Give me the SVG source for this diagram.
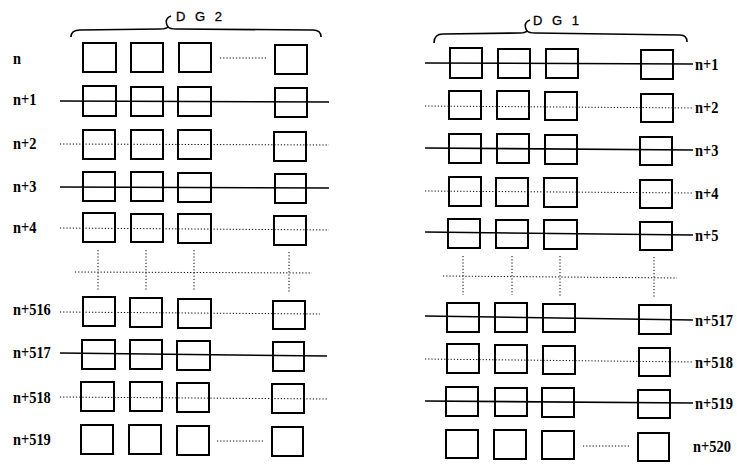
<svg xmlns="http://www.w3.org/2000/svg" width="737" height="465" viewBox="0 0 737 465">
<style>
.b{fill:none;stroke:#000;stroke-width:2}
.s{stroke:#000;stroke-width:1.6;fill:none}
.d{stroke:#000;stroke-width:1;stroke-dasharray:1.2 2;fill:none}
.br{stroke:#000;stroke-width:1.6;fill:none}
.l{font-family:"Liberation Serif",serif;font-weight:bold;font-size:16px;fill:#000}
.r{font-family:"Liberation Serif",serif;font-weight:bold;font-size:17px;fill:#000}
.t{font-family:"Liberation Sans",sans-serif;font-size:13px;fill:#000;letter-spacing:3px;stroke:#000;stroke-width:0.3}
</style>
<rect width="737" height="465" fill="#fff"/>
<g id="connectors">
<line class="d" x1="220" y1="58" x2="268" y2="58"/>
<line class="s" x1="60" y1="101" x2="329" y2="102"/>
<line class="d" x1="60" y1="144" x2="329" y2="145"/>
<line class="s" x1="60" y1="187" x2="329" y2="188"/>
<line class="d" x1="60" y1="228" x2="329" y2="230"/>
<line class="d" x1="60" y1="312" x2="320" y2="314"/>
<line class="s" x1="60" y1="353" x2="327" y2="356"/>
<line class="d" x1="60" y1="397" x2="327" y2="399"/>
<line class="d" x1="217" y1="441" x2="265" y2="441"/>
<line class="d" x1="98" y1="250" x2="98" y2="290"/>
<line class="d" x1="146" y1="250" x2="146" y2="290"/>
<line class="d" x1="194" y1="250" x2="194" y2="290"/>
<line class="d" x1="289" y1="252" x2="289" y2="292"/>
<line class="d" x1="75" y1="272" x2="312" y2="273"/>
<line class="s" x1="425" y1="63" x2="693" y2="64"/>
<line class="d" x1="425" y1="106" x2="693" y2="108"/>
<line class="s" x1="425" y1="148" x2="693" y2="150"/>
<line class="d" x1="425" y1="191" x2="693" y2="193"/>
<line class="s" x1="425" y1="232" x2="693" y2="235"/>
<line class="s" x1="425" y1="316" x2="693" y2="320"/>
<line class="d" x1="425" y1="359" x2="693" y2="362"/>
<line class="s" x1="425" y1="401" x2="693" y2="403"/>
<line class="d" x1="583" y1="446" x2="630" y2="446"/>
<line class="d" x1="463" y1="256" x2="463" y2="295"/>
<line class="d" x1="512" y1="256" x2="512" y2="295"/>
<line class="d" x1="560" y1="256" x2="560" y2="296"/>
<line class="d" x1="654" y1="257" x2="654" y2="297"/>
<line class="d" x1="443" y1="276" x2="677" y2="278"/>
</g>
<g id="brace-dg2">
<path class="br" d="M71,37 Q71,30 80,30 L160,29 Q166,29 168,27 Q170,29 176,29 L313,30 Q321,30 321,37"/>
<path class="br" d="M168,27 Q165,22 167,19 Q168,17 171,16"/>
<text class="t" x="176" y="21">D G 2</text>
</g>
<g id="brace-dg1">
<path class="br" d="M434,43 Q434,34 443,34 L520,33 Q525,33 527,31 Q529,33 535,33 L680,35 Q687,35 687,42"/>
<path class="br" d="M527,31 Q524,26 526,23 Q527,21 530,20"/>
<text class="t" x="533" y="25">D G 1</text>
</g>
<g id="labels-dg2" transform="translate(13,0) scale(0.9,1)">
<text class="l" x="0" y="64">n</text>
<text class="l" x="0" y="105">n+1</text>
<text class="l" x="0" y="149">n+2</text>
<text class="l" x="0" y="192">n+3</text>
<text class="l" x="0" y="233">n+4</text>
<text class="l" x="0" y="315">n+516</text>
<text class="l" x="0" y="358">n+517</text>
<text class="l" x="0" y="403">n+518</text>
<text class="l" x="0" y="445">n+519</text>
</g>
<g id="labels-dg1" transform="translate(695,0) scale(0.85,1)">
<text class="r" x="0" y="70">n+1</text>
<text class="r" x="0" y="113">n+2</text>
<text class="r" x="0" y="156">n+3</text>
<text class="r" x="0" y="199">n+4</text>
<text class="r" x="0" y="241">n+5</text>
<text class="r" x="0" y="326">n+517</text>
<text class="r" x="0" y="368">n+518</text>
<text class="r" x="0" y="409">n+519</text>
<text class="r" x="-2.4" y="452">n+520</text>
</g>
<g id="dg2-row-n"><rect class="b" x="83" y="43" width="33" height="29"/><rect class="b" x="131" y="43" width="32" height="29"/><rect class="b" x="179" y="43" width="32" height="29"/><rect class="b" x="275" y="45" width="32" height="29"/></g>
<g id="dg2-row-n1"><rect class="b" x="83" y="86" width="33" height="30"/><rect class="b" x="131" y="87" width="32" height="29"/><rect class="b" x="178" y="87" width="33" height="29"/><rect class="b" x="275" y="88" width="32" height="29"/></g>
<g id="dg2-row-n2"><rect class="b" x="83" y="130" width="32" height="29"/><rect class="b" x="131" y="130" width="32" height="29"/><rect class="b" x="178" y="130" width="33" height="29"/><rect class="b" x="274" y="132" width="32" height="29"/></g>
<g id="dg2-row-n3"><rect class="b" x="83" y="172" width="32" height="29"/><rect class="b" x="131" y="172" width="32" height="29"/><rect class="b" x="178" y="173" width="33" height="29"/><rect class="b" x="275" y="174" width="31" height="29"/></g>
<g id="dg2-row-n4"><rect class="b" x="83" y="213" width="32" height="29"/><rect class="b" x="131" y="214" width="32" height="28"/><rect class="b" x="178" y="214" width="33" height="29"/><rect class="b" x="274" y="216" width="32" height="29"/></g>
<g id="dg2-row-n516"><rect class="b" x="83" y="297" width="32" height="29"/><rect class="b" x="130" y="298" width="32" height="29"/><rect class="b" x="178" y="299" width="33" height="29"/><rect class="b" x="273" y="301" width="32" height="28"/></g>
<g id="dg2-row-n517"><rect class="b" x="82" y="340" width="33" height="29"/><rect class="b" x="130" y="340" width="32" height="29"/><rect class="b" x="177" y="341" width="33" height="29"/><rect class="b" x="273" y="342" width="31" height="29"/></g>
<g id="dg2-row-n518"><rect class="b" x="81" y="382" width="33" height="29"/><rect class="b" x="130" y="382" width="32" height="29"/><rect class="b" x="177" y="383" width="32" height="29"/><rect class="b" x="272" y="384" width="32" height="29"/></g>
<g id="dg2-row-n519"><rect class="b" x="81" y="425" width="32" height="29"/><rect class="b" x="129" y="425" width="32" height="29"/><rect class="b" x="177" y="426" width="32" height="29"/><rect class="b" x="272" y="427" width="31" height="29"/></g>
<g id="dg1-row-n1"><rect class="b" x="450" y="48" width="32" height="30"/><rect class="b" x="498" y="49" width="32" height="29"/><rect class="b" x="546" y="49" width="32" height="29"/><rect class="b" x="641" y="50" width="32" height="29"/></g>
<g id="dg1-row-n2"><rect class="b" x="449" y="91" width="32" height="28"/><rect class="b" x="497" y="91" width="32" height="28"/><rect class="b" x="545" y="92" width="32" height="28"/><rect class="b" x="641" y="94" width="32" height="28"/></g>
<g id="dg1-row-n3"><rect class="b" x="449" y="134" width="32" height="29"/><rect class="b" x="497" y="134" width="32" height="29"/><rect class="b" x="545" y="135" width="32" height="29"/><rect class="b" x="640" y="137" width="32" height="28"/></g>
<g id="dg1-row-n4"><rect class="b" x="449" y="177" width="32" height="29"/><rect class="b" x="496" y="178" width="32" height="28"/><rect class="b" x="544" y="178" width="33" height="29"/><rect class="b" x="640" y="180" width="32" height="28"/></g>
<g id="dg1-row-n5"><rect class="b" x="448" y="219" width="32" height="29"/><rect class="b" x="496" y="220" width="32" height="28"/><rect class="b" x="544" y="220" width="33" height="29"/><rect class="b" x="640" y="222" width="32" height="28"/></g>
<g id="dg1-row-n517"><rect class="b" x="447" y="303" width="32" height="29"/><rect class="b" x="495" y="303" width="32" height="29"/><rect class="b" x="543" y="304" width="32" height="28"/><rect class="b" x="639" y="305" width="32" height="29"/></g>
<g id="dg1-row-n518"><rect class="b" x="447" y="344" width="32" height="29"/><rect class="b" x="495" y="345" width="32" height="28"/><rect class="b" x="543" y="346" width="32" height="28"/><rect class="b" x="639" y="348" width="31" height="28"/></g>
<g id="dg1-row-n519"><rect class="b" x="446" y="387" width="32" height="29"/><rect class="b" x="495" y="388" width="32" height="28"/><rect class="b" x="542" y="388" width="32" height="29"/><rect class="b" x="638" y="390" width="32" height="28"/></g>
<g id="dg1-row-n520"><rect class="b" x="446" y="430" width="32" height="28"/><rect class="b" x="494" y="430" width="32" height="29"/><rect class="b" x="542" y="431" width="32" height="28"/><rect class="b" x="638" y="433" width="31" height="28"/></g>
</svg>
